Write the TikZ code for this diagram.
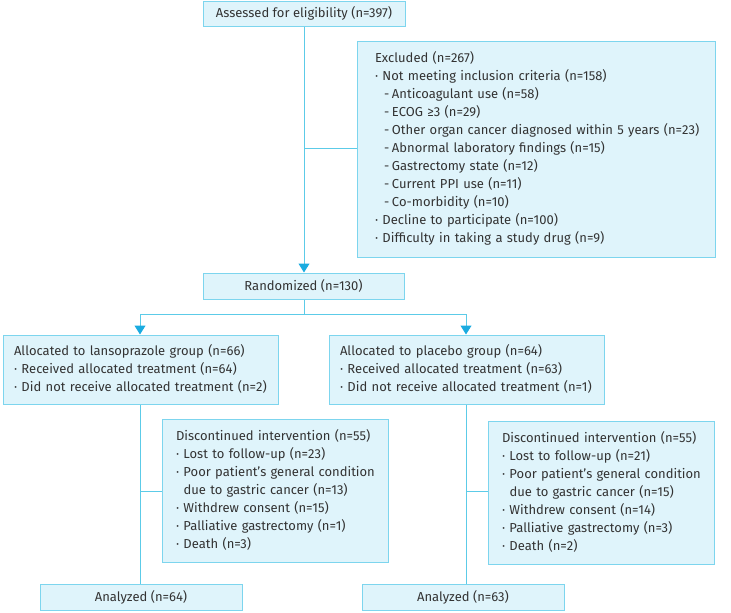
\documentclass[tikz,border=0pt]{standalone}
\usepackage{fontspec}
\setmainfont{Fira Sans}
\usetikzlibrary{arrows.meta}
\definecolor{boxfill}{HTML}{DFF4FB}
\definecolor{boxline}{HTML}{7DD5EE}
\definecolor{conline}{HTML}{5CCBE8}
\definecolor{arrowc}{HTML}{1AABE0}
\definecolor{txt}{HTML}{333333}
\newcommand{\bl}{\makebox[7.5pt][l]{\textperiodcentered}}
\newcommand{\dl}{\hspace*{9pt}\makebox[8pt][l]{-}}
\newcommand{\lines}[1]{\begin{tabular}{@{}l@{}}#1\end{tabular}}
\begin{document}
\begin{tikzpicture}[x=1pt,y=1pt,
  box/.style={draw=boxline, fill=boxfill, line width=1pt, inner ysep=0pt,
    font=\fontsize{13}{18}\selectfont, text=txt, align=left},
  cbox/.style={box, align=center},
  con/.style={draw=conline, line width=1pt},
  arr/.style={con, -{Triangle[width=11pt,length=9pt,color=arrowc]}}]
\useasboundingbox (0,0) rectangle (731,-613);
\node[cbox, minimum width=202pt, minimum height=25pt] (assess) at (304,-13.5) {Assessed for eligibility (n=397)};
\node[box, text width=322pt, inner xsep=18pt, minimum height=216pt] (excl) at (536,-149) {\lines{Excluded (n=267)\\
\bl Not meeting inclusion criteria (n=158)\\
\dl Anticoagulant use (n=58)\\
\dl ECOG ≥3 (n=29)\\
\dl Other organ cancer diagnosed within 5 years (n=23)\\
\dl Abnormal laboratory findings (n=15)\\
\dl Gastrectomy state (n=12)\\
\dl Current PPI use (n=11)\\
\dl Co-morbidity (n=10)\\
\bl Decline to participate (n=100)\\
\bl Difficulty in taking a study drug (n=9)}};
\node[cbox, minimum width=201pt, minimum height=26pt] (rand) at (303.5,-286) {Randomized (n=130)};
\node[box, text width=253pt, inner xsep=11pt, minimum height=69pt] (allocL) at (140.5,-369.5) {\lines{Allocated to lansoprazole group (n=66)\\
\bl Received allocated treatment (n=64)\\
\bl Did not receive allocated treatment (n=2)}};
\node[box, text width=253pt, inner xsep=11pt, minimum height=69pt] (allocR) at (466.5,-369.5) {\lines{Allocated to placebo group (n=64)\\
\bl Received allocated treatment (n=63)\\
\bl Did not receive allocated treatment (n=1)}};
\node[box, text width=198pt, inner xsep=14pt, minimum height=143pt] (discL) at (275,-490.5) {\lines{Discontinued intervention (n=55)\\
\bl Lost to follow-up (n=23)\\
\bl Poor patient's general condition\\
\hspace*{7.5pt}due to gastric cancer (n=13)\\
\bl Withdrew consent (n=15)\\
\bl Palliative gastrectomy (n=1)\\
\bl Death (n=3)}};
\node[box, text width=198pt, inner xsep=14pt, minimum height=143pt] (discR) at (601,-492.5) {\lines{Discontinued intervention (n=55)\\
\bl Lost to follow-up (n=21)\\
\bl Poor patient's general condition\\
\hspace*{7.5pt}due to gastric cancer (n=15)\\
\bl Withdrew consent (n=14)\\
\bl Palliative gastrectomy (n=3)\\
\bl Death (n=2)}};
\node[cbox, minimum width=202pt, minimum height=26pt] (anL) at (141,-597) {Analyzed (n=64)};
\node[cbox, minimum width=202pt, minimum height=26pt] (anR) at (463,-597) {Analyzed (n=63)};
% connectors
\coordinate (b1) at (304,-148);
\draw[arr] (assess.south -| b1) -- (rand.north -| b1);
\draw[con] (b1) -- (b1 -| excl.west);
\coordinate (split) at (304,-314);
\coordinate (sl) at (140,-314);
\coordinate (sr) at (466,-314);
\draw[con] (rand.south -| split) -- (split);
\draw[arr] (split) -- (sl) -- (sl |- allocL.north);
\draw[arr] (split) -- (sr) -- (sr |- allocR.north);
\coordinate (bl2) at (140,-491);
\coordinate (br2) at (466,-491);
\draw[con] (bl2 |- allocL.south) -- (bl2 |- anL.north);
\draw[con] (bl2) -- (bl2 -| discL.west);
\draw[con] (br2 |- allocR.south) -- (br2 |- anR.north);
\draw[con] (br2) -- (br2 -| discR.west);
\end{tikzpicture}
\end{document}
